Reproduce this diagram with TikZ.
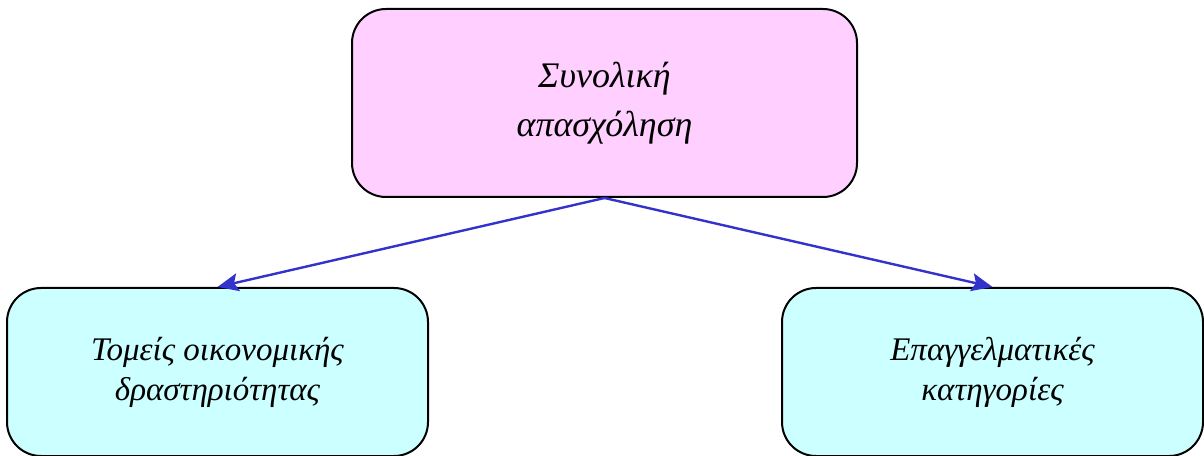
\documentclass[tikz,border=0pt]{standalone}
\usepackage{fontspec}
\setmainfont{Liberation Serif}
\usepackage{xcolor}
\usetikzlibrary{arrows.meta,positioning}

\definecolor{rootpink}{RGB}{255,208,255}
\definecolor{leafcyan}{RGB}{204,255,255}
\definecolor{arrblue}{RGB}{51,51,204}

\begin{document}
\begin{tikzpicture}[
  x=1pt, y=1pt,
  box/.style={draw, line width=2pt, rounded corners=34pt, align=center,
    font=\itshape},
  root/.style={box, fill=rootpink, minimum width=505pt, minimum height=188pt,
    font=\fontsize{36}{49}\selectfont\itshape},
  leaf/.style={box, fill=leafcyan, minimum width=421pt, minimum height=168pt,
    font=\fontsize{33}{40}\selectfont\itshape},
  arr/.style={-{Stealth[length=21pt, width=18pt, inset=4pt]}, line width=2.4pt,
    draw=arrblue, fill=arrblue},
]
\useasboundingbox (0,0) rectangle (1204,455);

% Root
\node[root] (total) at (604.5,352) {Συνολική\\απασχόληση};

% Children
\node[leaf] (sectors) at (217.5,83) {Τομείς οικονομικής\\δραστηριότητας};
\node[leaf] (occup) at (992.5,83) {Επαγγελματικές\\κατηγορίες};

% Arrows
\draw[arr] (total.south) -- (sectors.north);
\draw[arr] (total.south) -- (occup.north);

\end{tikzpicture}
\end{document}
